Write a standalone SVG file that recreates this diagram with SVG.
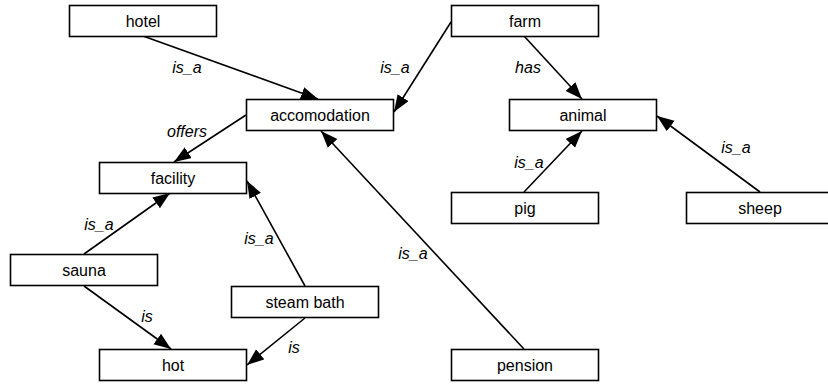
<svg xmlns="http://www.w3.org/2000/svg" width="828" height="385" viewBox="0 0 828 385">
<style>
.n rect{fill:#fff;stroke:#000;stroke-width:1.6}
.n text{font-family:"Liberation Sans",Arial,sans-serif;font-size:16px;text-anchor:middle;fill:#000}
.e line{stroke:#000;stroke-width:1.6;marker-end:url(#ah)}
.e text{font-family:"Liberation Sans",Arial,sans-serif;font-size:16px;font-style:italic;text-anchor:middle;fill:#000}
</style>
<defs>
<marker id="ah" markerUnits="userSpaceOnUse" markerWidth="18" markerHeight="14" refX="17" refY="6.5" orient="auto">
<path d="M0,0 L17,6.5 L0,13 z" fill="#000"/>
</marker>
</defs>
<rect width="828" height="385" fill="#fff"/>
<g class="e" id="connectors">
<line x1="143" y1="36" x2="318" y2="99"/>
<line x1="451" y1="22" x2="394" y2="112"/>
<line x1="246" y1="115" x2="174" y2="162"/>
<line x1="524" y1="36" x2="582" y2="99"/>
<line x1="524" y1="192" x2="582" y2="131"/>
<line x1="760" y1="192" x2="657" y2="116"/>
<line x1="84" y1="254" x2="170" y2="193"/>
<line x1="305" y1="286" x2="247" y2="181"/>
<line x1="84" y1="286" x2="171" y2="349"/>
<line x1="305" y1="318" x2="247" y2="365"/>
<line x1="524" y1="349" x2="321" y2="131"/>
<text x="187" y="73">is_a</text>
<text x="395" y="73">is_a</text>
<text x="187" y="137">offers</text>
<text x="528" y="73">has</text>
<text x="529" y="168">is_a</text>
<text x="736" y="153">is_a</text>
<text x="99" y="230">is_a</text>
<text x="259" y="244">is_a</text>
<text x="147" y="322">is</text>
<text x="294" y="353">is</text>
<text x="413" y="259">is_a</text>
</g>
<g class="n" id="hotel"><rect x="69.5" y="5.5" width="147" height="31"/><text x="143" y="26.5">hotel</text></g>
<g class="n" id="accomodation"><rect x="246.5" y="99.5" width="147" height="31"/><text x="320" y="120.5">accomodation</text></g>
<g class="n" id="facility"><rect x="99.5" y="162.5" width="147" height="31"/><text x="173" y="183.5">facility</text></g>
<g class="n" id="farm"><rect x="451.5" y="5.5" width="147" height="31"/><text x="525" y="26.5">farm</text></g>
<g class="n" id="animal"><rect x="509.5" y="99.5" width="147" height="31"/><text x="583" y="120.5">animal</text></g>
<g class="n" id="pig"><rect x="451.5" y="192.5" width="147" height="31"/><text x="525" y="213.5">pig</text></g>
<g class="n" id="sheep"><rect x="686.5" y="192.5" width="147" height="31"/><text x="760" y="213.5">sheep</text></g>
<g class="n" id="sauna"><rect x="10.5" y="254.5" width="147" height="31"/><text x="84" y="275.5">sauna</text></g>
<g class="n" id="steam_bath"><rect x="231.5" y="286.5" width="147" height="31"/><text x="305" y="307.5">steam bath</text></g>
<g class="n" id="hot"><rect x="99.5" y="349.5" width="147" height="31"/><text x="173" y="370.5">hot</text></g>
<g class="n" id="pension"><rect x="451.5" y="349.5" width="147" height="31"/><text x="525" y="370.5">pension</text></g>
</svg>
